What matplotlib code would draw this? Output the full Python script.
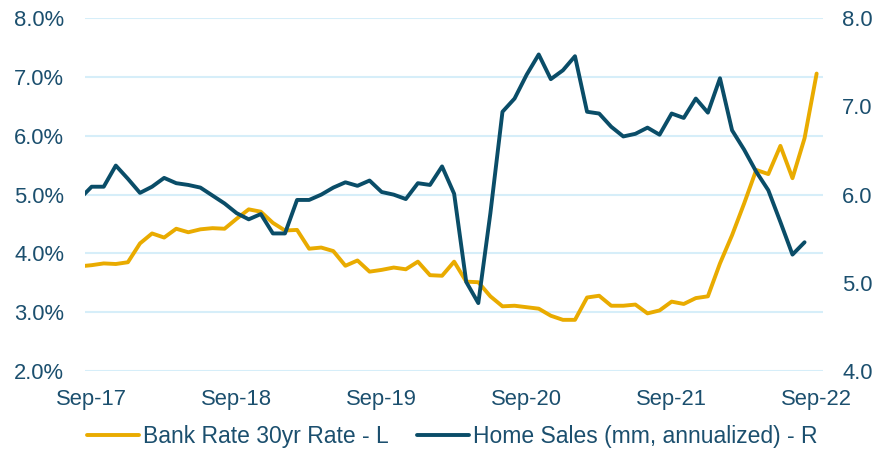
import matplotlib
matplotlib.use("Agg")
import matplotlib.pyplot as plt
import numpy as np
import pandas as pd

# monthly data, Aug-17 .. Sep-22 (Aug-17 sits just left of the visible area)
months = pd.period_range("2017-08", "2022-09", freq="M")

mortgage_rate = [
    3.78, 3.80, 3.83, 3.82, 3.85, 4.17, 4.34, 4.27, 4.42, 4.36, 4.41, 4.43, 4.42,
    4.59, 4.75, 4.71, 4.52, 4.39, 4.40, 4.08, 4.10, 4.04, 3.79, 3.88, 3.69,
    3.72, 3.76, 3.73, 3.86, 3.63, 3.62, 3.86, 3.52, 3.51, 3.27, 3.10, 3.11,
    3.085, 3.06, 2.94, 2.87, 2.87, 3.25, 3.28, 3.11, 3.11, 3.13, 2.98, 3.03,
    3.18, 3.14, 3.24, 3.27, 3.83, 4.31, 4.85, 5.42, 5.35, 5.83, 5.28, 5.96, 7.06,
]

home_sales = [
    5.95, 6.09, 6.09, 6.33, 6.18, 6.02, 6.09, 6.19, 6.13, 6.11, 6.08, 5.99, 5.90,
    5.79, 5.72, 5.78, 5.56, 5.56, 5.94, 5.94, 6.00, 6.08, 6.14, 6.10, 6.16,
    6.03, 6.00, 5.95, 6.13, 6.11, 6.32, 6.01, 5.01, 4.77, 5.79, 6.94, 7.09,
    7.36, 7.59, 7.31, 7.41, 7.57, 6.94, 6.92, 6.77, 6.66, 6.69, 6.76, 6.68,
    6.92, 6.87, 7.09, 6.93, 7.32, 6.73, 6.51, 6.26, 6.05, 5.69, 5.32, 5.46, np.nan,
]

left_ticks = [2, 3, 4, 5, 6, 7, 8]
right_ticks = [4, 5, 6, 7, 8]

GOLD = "#E9AB00"
NAVY = "#0A4D68"
TEXT = "#1B4F6E"
GRID = "#D6EEF9"

plt.rcParams["font.family"] = ["Liberation Sans", "DejaVu Sans"]

x = np.arange(len(months)) - 1  # Sep-17 -> 0
tick_pos = [xi for xi, m in zip(x, months) if m.month == 9]
tick_lab = [m.strftime("%b-%y") for m in months if m.month == 9]

fig = plt.figure(figsize=(8.78, 4.5), dpi=100)
ax = fig.add_axes([0.0968, 0.1756, 0.8402, 0.7837])
ax2 = ax.twinx()

l1, = ax.plot(x, mortgage_rate, color=GOLD, lw=2.8, label="Bank Rate 30yr Rate - L",
              solid_joinstyle="round", solid_capstyle="round")
l2, = ax2.plot(x, home_sales, color=NAVY, lw=2.8, label="Home Sales (mm, annualized) - R",
               solid_joinstyle="round", solid_capstyle="round")

ax.set_xlim(-0.55, 60.5)
ax.set_ylim(2, 8)
ax2.set_ylim(4, 8)

ax.set_yticks(left_ticks)
ax.set_yticklabels([f"{v:.1f}%" for v in left_ticks])
ax2.set_yticks(right_ticks)
ax2.set_yticklabels([f"{v:.1f}" for v in right_ticks])
ax.set_xticks(tick_pos)
ax.set_xticklabels(tick_lab)

ax.grid(axis="y", color=GRID, lw=1.5)
ax.set_axisbelow(True)

for a in (ax, ax2):
    for s in a.spines.values():
        s.set_visible(False)
    a.tick_params(length=0, labelsize=15.8, labelcolor=TEXT)
ax.tick_params(axis="y", pad=15)
ax2.tick_params(axis="y", pad=14)
ax.tick_params(axis="x", pad=13)

fig.legend(handles=[l1, l2], loc="center", bbox_to_anchor=(0.515, 0.029),
           ncol=2, frameon=False, fontsize=16.5, labelcolor=TEXT,
           handlelength=2.27, handletextpad=0.2, columnspacing=1.2)

fig.savefig("out.png", dpi=100)
